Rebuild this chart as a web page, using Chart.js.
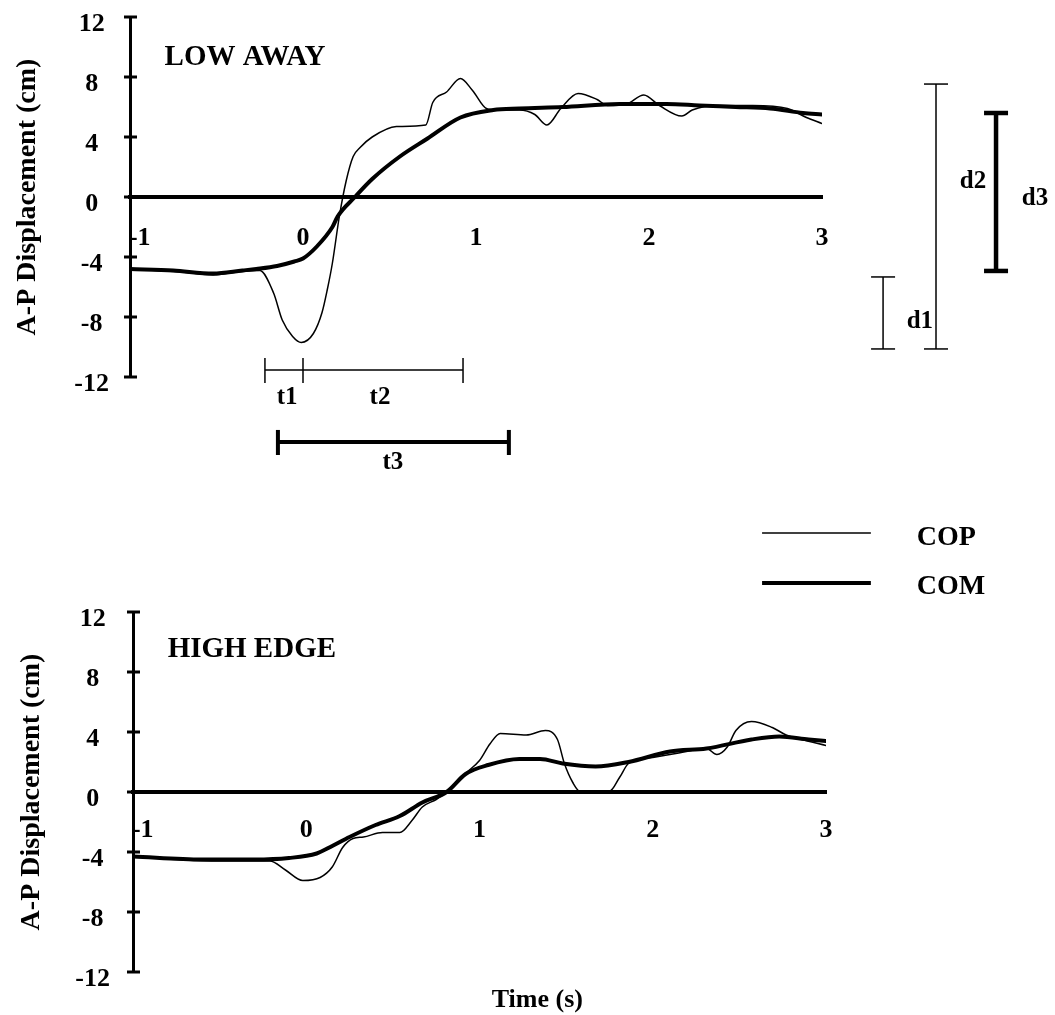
<!DOCTYPE html>
<html><head><meta charset="utf-8">
<script src="https://cdn.jsdelivr.net/npm/chart.js@4.4.0/dist/chart.umd.min.js"></script>
<style>
html,body{margin:0;padding:0;background:#fff;overflow:hidden;}
#wrap{position:relative;width:1055px;height:1015px;background:#fff;overflow:hidden;}
canvas{position:absolute;left:0;}
#c1{top:-30px;} #c2{top:500px;}
</style></head>
<body><div id="wrap"><canvas id="c1" width="1055" height="530"></canvas><canvas id="c2" width="1055" height="515"></canvas></div>
<script>
// ---- tick labels ----
const timeTicks = [-1, 0, 1, 2, 3];
const dispTicks = [-12, -8, -4, 0, 4, 8, 12];

// ---- LOW AWAY ----
const lowAwayCopTime = [-1.0,-0.85,-0.7,-0.52,-0.38,-0.25,-0.17,-0.12,-0.06,-0.01,0.06,0.11,0.14,0.17,0.21,0.25,0.29,0.33,0.40,0.54,0.71,0.75,0.83,0.91,0.98,1.06,1.12,1.25,1.34,1.41,1.49,1.59,1.70,1.76,1.87,1.97,2.06,2.19,2.25,2.40,2.60,2.80,2.91,3.0];
const lowAwayCopDisp = [-4.8,-4.9,-5.0,-5.2,-5.0,-4.9,-6.4,-8.2,-9.3,-9.7,-9.1,-7.7,-6.2,-4.4,-1.3,1.1,2.7,3.3,4.0,4.7,4.8,6.3,7.0,7.9,7.1,5.9,5.8,5.8,5.5,4.8,5.9,6.9,6.5,6.1,6.2,6.8,6.1,5.4,5.8,6.1,6.1,5.9,5.3,4.9];
const lowAwayComTime = [-1.0,-0.75,-0.52,-0.35,-0.27,-0.15,-0.05,0.0,0.08,0.17,0.20,0.30,0.40,0.56,0.72,0.91,1.10,1.25,1.5,1.83,2.1,2.29,2.5,2.70,2.89,3.0];
const lowAwayComDisp = [-4.8,-4.9,-5.1,-4.9,-4.8,-4.6,-4.3,-4.1,-3.3,-2.0,-1.3,0,1.2,2.7,3.9,5.3,5.8,5.9,6.0,6.2,6.2,6.1,6.0,5.9,5.6,5.5];

// ---- HIGH EDGE ----
const highEdgeCopTime = [-1.0,-0.75,-0.5,-0.3,-0.21,-0.12,-0.02,0.08,0.15,0.21,0.27,0.33,0.44,0.54,0.61,0.67,0.75,0.81,0.925,1.0,1.06,1.12,1.27,1.38,1.45,1.49,1.54,1.58,1.75,1.81,1.86,2.0,2.15,2.31,2.37,2.43,2.48,2.57,2.69,2.77,2.86,3.0];
const highEdgeCopDisp = [-4.3,-4.5,-4.6,-4.6,-4.6,-5.2,-5.9,-5.7,-5.0,-3.7,-3.1,-3.0,-2.7,-2.7,-1.9,-1.0,-0.5,0,1.3,2.1,3.2,3.9,3.8,4.1,3.5,1.9,0.6,0.05,0.05,1.0,1.9,2.3,2.6,2.9,2.5,3.0,4.1,4.7,4.3,3.8,3.5,3.1];
const highEdgeComTime = [-1.0,-0.6,-0.3,-0.1,0.06,0.15,0.25,0.4,0.54,0.67,0.81,0.92,1.05,1.23,1.35,1.48,1.67,1.86,2.10,2.31,2.57,2.73,2.9,3.0];
const highEdgeComDisp = [-4.3,-4.5,-4.5,-4.4,-4.1,-3.6,-3.0,-2.2,-1.6,-0.7,0,1.2,1.8,2.2,2.2,1.9,1.7,2.0,2.7,2.9,3.5,3.7,3.5,3.4];

// ---- annotation intervals (LOW AWAY) ----
const phaseTimes = [-0.22, 0.0, 0.925];   // t1 | t2 boundaries
const totalTimes = [-0.145, 1.19];         // t3
const d1Range = [-5.33, -10.13];
const d2Range = [7.53, -10.13];
const d3Range = [5.6, -4.93];

const FONT = '"Liberation Serif", "Times New Roman", serif';
const zip = (xs, ys) => xs.map((x, i) => ({x: x, y: ys[i]}));

function seg(ctx, x1, y1, x2, y2, w) {
  ctx.save(); ctx.strokeStyle = '#000'; ctx.lineWidth = w; ctx.lineCap = 'butt';
  ctx.beginPath(); ctx.moveTo(x1, y1); ctx.lineTo(x2, y2); ctx.stroke(); ctx.restore();
}
function txt(ctx, s, x, y, size, align) {
  ctx.save(); ctx.font = 'bold ' + size + 'px ' + FONT; ctx.fillStyle = '#000';
  ctx.textAlign = align || 'center'; ctx.textBaseline = 'middle'; ctx.fillText(s, x, y); ctx.restore();
}

const crossTicks = {
  id: 'crossTicks',
  afterDraw(chart) {
    const ys = chart.scales.y, ax = chart.chartArea.left, ctx = chart.ctx;
    ys.ticks.forEach(tk => { const y = ys.getPixelForValue(tk.value); seg(ctx, ax - 6, y, ax + 7, y, 3); });
  }
};

function makeOptions(cfg) {
  return {
    responsive: false, maintainAspectRatio: false, animation: false, devicePixelRatio: 1,
    layout: { padding: cfg.padding },
    plugins: { legend: { display: false }, tooltip: { enabled: false } },
    elements: { point: { radius: 0 }, line: { borderCapStyle: 'round', borderJoinStyle: 'round' } },
    scales: {
      x: {
        type: 'linear', min: -1, max: 3, position: { y: 0 },
        afterBuildTicks: s => { s.ticks = timeTicks.map(v => ({ value: v })); },
        ticks: { color: '#000', font: { family: FONT, size: 26, weight: 'bold' }, padding: cfg.xPad,
                 callback: v => (v === -1 ? '   -1' : String(v)) },
        grid: { display: false, drawTicks: false },
        border: { display: true, color: '#000', width: 4 }
      },
      y: {
        type: 'linear', min: -12, max: 12,
        afterBuildTicks: s => { s.ticks = dispTicks.map(v => ({ value: v })); },
        afterFit: s => { s.width = cfg.yWidth; },
        ticks: { color: '#000', font: { family: FONT, size: 26, weight: 'bold' }, padding: cfg.yPad, crossAlign: 'center', labelOffset: 7 },
        grid: { display: false, drawTicks: false },
        border: { display: true, color: '#000', width: 3 },
        title: { display: true, text: 'A-P Displacement (cm)', color: '#000',
                 font: { family: FONT, size: 28, weight: 'bold' }, padding: { top: cfg.titlePad, bottom: 0 } }
      }
    }
  };
}

function datasets(copT, copV, comT, comV) {
  return [
    { label: 'COP', data: zip(copT, copV), borderColor: '#000', borderWidth: 1.5, fill: false, pointRadius: 0, cubicInterpolationMode: 'monotone' },
    { label: 'COM', data: zip(comT, comV), borderColor: '#000', borderWidth: 4, fill: false, pointRadius: 0, cubicInterpolationMode: 'monotone' }
  ];
}

const lowAwayNotes = {
  id: 'lowAwayNotes',
  afterDraw(chart) {
    const ctx = chart.ctx, X = v => chart.scales.x.getPixelForValue(v), Y = v => chart.scales.y.getPixelForValue(v);
    txt(ctx, 'LOW AWAY', X(-0.8), Y(9.3), 29, 'left');
    // t1 / t2
    const yb = Y(-11.53);
    seg(ctx, X(phaseTimes[0]), yb, X(phaseTimes[2]), yb, 1.5);
    phaseTimes.forEach(t => seg(ctx, X(t), Y(-10.73), X(t), Y(-12.4), 1.5));
    txt(ctx, 't1', X(-0.092), Y(-13.4), 25);
    txt(ctx, 't2', X(0.445), Y(-13.4), 25);
    // t3
    const y3 = Y(-16.33);
    seg(ctx, X(totalTimes[0]), y3, X(totalTimes[1]), y3, 4);
    totalTimes.forEach(t => seg(ctx, X(t), Y(-15.53), X(t), Y(-17.2), 4));
    txt(ctx, 't3', X(0.52), Y(-17.73), 25);
    // d bars
    const bar = (tx, r, w, cw) => {
      const x = X(tx);
      seg(ctx, x, Y(r[0]), x, Y(r[1]), w);
      seg(ctx, x - cw, Y(r[0]), x + cw, Y(r[0]), w);
      seg(ctx, x - cw, Y(r[1]), x + cw, Y(r[1]), w);
    };
    bar(3.353, d1Range, 1.5, 12);
    bar(3.659, d2Range, 1.5, 12);
    bar(4.006, d3Range, 4.5, 12);
    txt(ctx, 'd1', X(3.566), Y(-8.33), 25);
    txt(ctx, 'd2', X(3.873), Y(1.0), 25);
    txt(ctx, 'd3', X(4.231), Y(-0.13), 25);
  }
};

const highEdgeNotes = {
  id: 'highEdgeNotes',
  afterDraw(chart) {
    const ctx = chart.ctx, X = v => chart.scales.x.getPixelForValue(v), Y = v => chart.scales.y.getPixelForValue(v);
    txt(ctx, 'HIGH EDGE', X(-0.8), Y(9.5), 29, 'left');
    txt(ctx, 'Time (s)', X(1.334), Y(-13.9), 26);
    // legend
    const ds = chart.data.datasets;
    const lx1 = X(2.631), lx2 = X(3.259);
    [[ds[0], Y(17.27), Y(16.93)], [ds[1], Y(13.93), Y(13.67)]].forEach(([d, yl, yt]) => {
      seg(ctx, lx1, yl, lx2, yl, d.borderWidth);
      txt(ctx, d.label, X(3.524), yt, 28, 'left');
    });
  }
};

new Chart(document.getElementById('c1'), {
  type: 'line',
  data: { datasets: datasets(lowAwayCopTime, lowAwayCopDisp, lowAwayComTime, lowAwayComDisp) },
  options: makeOptions({ padding: { left: 0, right: 233, top: 47, bottom: 123 }, yWidth: 130, yPad: 21, xPad: 26, titlePad: 11 }),
  plugins: [crossTicks, lowAwayNotes]
});

new Chart(document.getElementById('c2'), {
  type: 'line',
  data: { datasets: datasets(highEdgeCopTime, highEdgeCopDisp, highEdgeComTime, highEdgeComDisp) },
  options: makeOptions({ padding: { left: 0, right: 229, top: 112, bottom: 43 }, yWidth: 133, yPad: 23, xPad: 23, titlePad: 15 }),
  plugins: [crossTicks, highEdgeNotes]
});
</script>
</body></html>
